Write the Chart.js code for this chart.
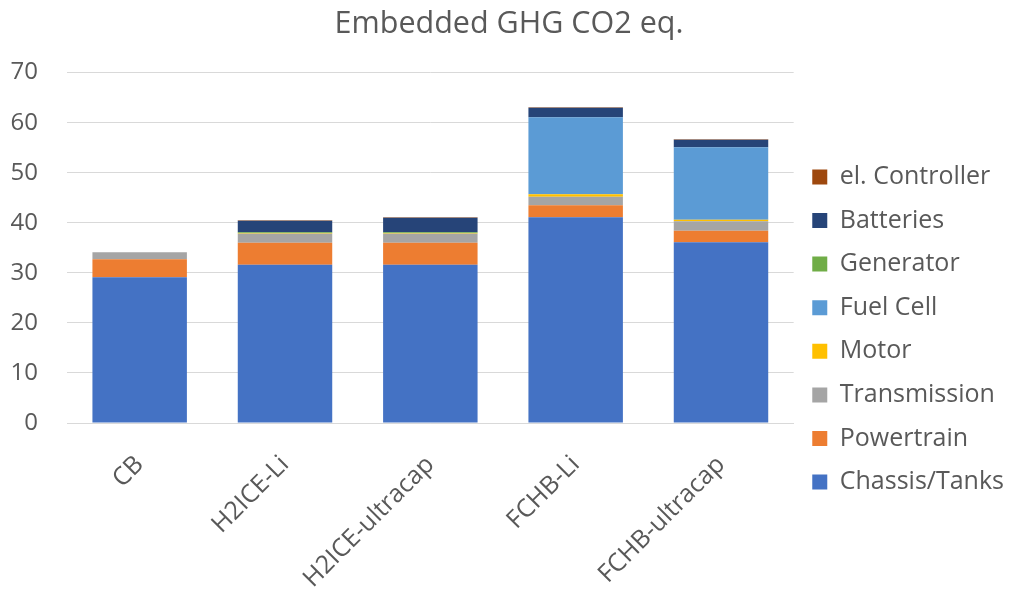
<!DOCTYPE html>
<html>
<head>
<meta charset="utf-8">
<script src="https://cdn.jsdelivr.net/npm/chart.js@4"></script>
<style>
  html, body { margin: 0; padding: 0; background: #fff; }
  #wrap { width: 1014px; height: 589px; }
</style>
</head>
<body>
<div id="wrap"><canvas id="c" width="1014" height="589"></canvas></div>
<script>
"use strict";
// values (stack order bottom -> top)
const categories   = ["CB", "H2ICE-Li", "H2ICE-ultracap", "FCHB-Li", "FCHB-ultracap"];
const chassis      = [29.1, 31.6, 31.6, 41.1, 36.1];
const powertrain   = [3.6, 4.4, 4.4, 2.4, 2.3];
const transmission = [1.4, 1.8, 1.8, 1.7, 1.9];
const motor        = [0, 0.1, 0.1, 0.5, 0.3];
const fuelCell     = [0, 0, 0, 15.4, 14.5];
const generator    = [0, 0.2, 0.2, 0, 0];
const batteries    = [0, 2.3, 2.9, 1.9, 1.5];
const controller   = [0, 0.1, 0.1, 0.1, 0.1];
const yTicks       = [0, 10, 20, 30, 40, 50, 60, 70];

const FONT = "'Open Sans'";
const GREY = "#595959";

const series = [
  ["Chassis/Tanks", chassis, "#4472C4"],
  ["Powertrain", powertrain, "#ED7D31"],
  ["Transmission", transmission, "#A5A5A5"],
  ["Motor", motor, "#FFC000"],
  ["Fuel Cell", fuelCell, "#5B9BD5"],
  ["Generator", generator, "#70AD47"],
  ["Batteries", batteries, "#264478"],
  ["el. Controller", controller, "#9E480E"],
];

new Chart(document.getElementById("c"), {
  type: "bar",
  data: {
    labels: categories,
    datasets: series.map(([label, data, color]) => ({
      label, data, backgroundColor: color, borderWidth: 0,
      categoryPercentage: 0.65, barPercentage: 1,
    })),
  },
  options: {
    responsive: false, animation: false,
    layout: { padding: { left: 4, right: 0, top: 0, bottom: 0 } },
    plugins: {
      title: { display: true, text: "Embedded GHG CO2 eq.", color: GREY,
        font: { family: FONT, size: 30.5, weight: "normal" }, padding: { top: 6, bottom: 30 } },
      legend: { position: "right", reverse: true,
        // blank legend title only pushes the entries down, as in the original
        title: { display: true, text: " ", font: { size: 10 }, padding: { top: 58, bottom: 0 } },
        labels: { color: GREY, font: { family: FONT, size: 25 }, boxWidth: 15, boxHeight: 15, padding: 18.6 } },
      tooltip: { enabled: false },
    },
    scales: {
      x: { stacked: true,
        afterFit: (s) => { s.height = 166; },
        grid: { display: false },
        border: { color: "#d9d9d9" },
        ticks: { color: GREY, font: { family: FONT, size: 25 }, minRotation: 45, maxRotation: 45, padding: 19 } },
      y: { stacked: true, min: 0, max: 70,
        afterFit: (s) => { s.width = 63; },
        afterBuildTicks: (s) => { s.ticks = yTicks.map((v) => ({ value: v })); },
        grid: { color: "#d9d9d9", drawTicks: false },
        border: { display: false },
        ticks: { color: GREY, font: { family: FONT, size: 24 }, padding: 29 } },
    },
  },
});
</script>
</body>
</html>
